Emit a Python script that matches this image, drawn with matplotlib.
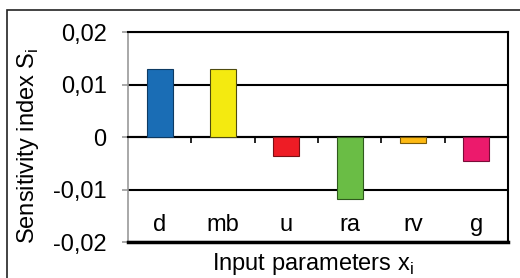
import matplotlib.pyplot as plt
import matplotlib.patches as mpatches
from matplotlib.ticker import FuncFormatter
import numpy as np

plt.rcParams['font.family'] = ['Liberation Sans', 'DejaVu Sans']

params = ['d', 'mb', 'u', 'ra', 'rv', 'g']
sens = [0.013, 0.013, -0.0036, -0.0119, -0.0012, -0.0046]
colors = ['#1a6db5', '#f4ea10', '#ee1c25', '#6abd45', '#fdb913', '#ec1a6c']
edges = ['#0d3a63', '#4f4b10', '#7a1015', '#2f5a1d', '#7a5a08', '#7a0d38']

W, H = 520, 278
fs = 17
fig = plt.figure(figsize=(5.2, 2.78), dpi=100)
ax = fig.add_axes([128 / W, 1 - 242 / H, 380 / W, 210 / H])

# outer frame of the picture
fig.patches.append(mpatches.Rectangle((7 / W, -0.05), 1.1, 1 - 10 / H + 0.05,
                                      transform=fig.transFigure, fill=False,
                                      edgecolor='#222222', linewidth=1.2))

x = np.arange(len(params))
ax.bar(x, sens, width=0.41, color=colors, edgecolor=edges, linewidth=0.8, zorder=3)

ax.set_xlim(-0.5, len(params) - 0.5)
ax.set_ylim(-0.02, 0.02)
ax.set_yticks([-0.02, -0.01, 0, 0.01, 0.02])
ax.yaxis.set_major_formatter(FuncFormatter(
    lambda v, p: '0' if abs(v) < 1e-9 else ('%.2f' % v).replace('.', ',')))
ax.grid(axis='y', color='black', linewidth=1.5, zorder=1)

ax.spines['bottom'].set_position(('data', 0))
ax.spines['bottom'].set_linewidth(1.5)
ax.spines['left'].set_color('#999999')
ax.spines['left'].set_linewidth(1.2)
ax.spines['top'].set_linewidth(1.5)
ax.spines['right'].set_linewidth(1.5)
ax.axhline(-0.02, color='black', linewidth=2.5, clip_on=False, zorder=4)

ax.set_xticks(x[:-1] + 0.5)
ax.set_xticklabels([])
ax.tick_params(axis='x', direction='out', length=4.5, width=1.2, color='black')
ax.tick_params(axis='y', direction='out', length=4.3, width=1.2, color='#999999',
               pad=11, labelsize=fs)

for xi, name in zip(x, params):
    ax.text(xi, -0.0168, name, ha='center', va='center', fontsize=fs)

fig.text(313 / W, 1 - 264 / H, 'Input parameters x$_\\mathregular{i}$',
         ha='center', va='center', fontsize=fs)
fig.text(28 / W, 1 - 146 / H, 'Sensitivity index S$_\\mathregular{i}$',
         ha='center', va='center', rotation=90, fontsize=fs)

fig.savefig('out.png', dpi=100)
